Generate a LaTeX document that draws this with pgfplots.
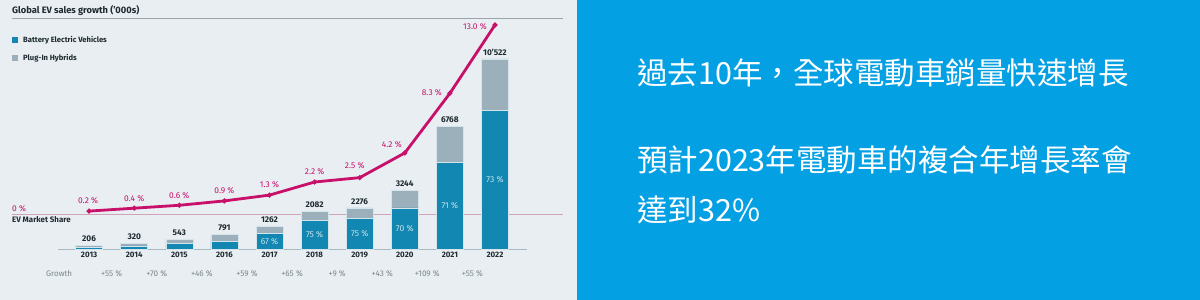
\documentclass[border=0pt]{standalone}
\usepackage{fontspec}
\setmainfont{Fira Sans}
\newfontfamily\cjk{Noto Sans CJK TC}
\usepackage{pgfplots}
\pgfplotsset{compat=1.18}
\usepackage{pgfplotstable}

\definecolor{bgc}{HTML}{E8EEF2}
\definecolor{panelc}{HTML}{04A0E4}
\definecolor{bevc}{HTML}{1287B1}
\definecolor{phevc}{HTML}{9CB0BC}
\definecolor{sharec}{HTML}{C8106A}
\definecolor{rulec}{HTML}{9AA5AB}
\definecolor{basec}{HTML}{A9B9C3}
\definecolor{zerolinec}{HTML}{CFA3B8}
\definecolor{innerc}{HTML}{C9E2EC}
\definecolor{growthc}{HTML}{7A868C}
\definecolor{inkc}{HTML}{1E2A30}
\definecolor{sepc}{HTML}{D5E3EA}

% Global EV sales ('000s): battery electric and plug-in hybrid
\pgfplotstableread{
year bev  phev total label
2013 110  96   206   206
2014 175  145  320   320
2015 290  253  543   543
2016 440  351  791   791
2017 846  416  1262  1262
2018 1562 520  2082  2082
2019 1707 569  2276  2276
2020 2271 973  3244  3244
2021 4805 1963 6768  6768
2022 7681 2841 10522 10'522
}\salestab

% BEV part of each year's sales (label sits mid-segment)
\pgfplotstableread{
year mid    pct
2017 423    67
2018 781    75
2019 853.5  75
2020 1135.5 70
2021 2402.5 71
2022 3840.5 73
}\bevtab

% year-on-year growth (%), between the years
\pgfplotstableread{
x      y     growth
2013.5 -1384 +55
2014.5 -1384 +70
2015.5 -1384 +46
2016.5 -1384 +59
2017.5 -1384 +65
2018.5 -1384 +9
2019.5 -1384 +43
2020.5 -1384 +109
2021.5 -1384 +55
}\growthtab

% EV market share (%)
\pgfplotstableread{
year share
2013 0.2
2014 0.4
2015 0.6
2016 0.9
2017 1.3
2018 2.2
2019 2.5
2020 4.2
2021 8.3
2022 13.0
}\sharetab

\pgfplotsset{
  chartframe/.style={
    at={(58pt,51pt)}, anchor=south west,
    scale only axis, width=469pt, height=240pt,
    xmin=2012.31, xmax=2022.71, ymin=0, ymax=13291, clip=false,
  },
  shareframe/.style={
    at={(58pt,86pt)}, anchor=south west,
    scale only axis, width=469pt, height=189pt,
    xmin=2012.31, xmax=2022.71, ymin=0, ymax=13,
    axis lines=none, clip=false,
  },
  sharelabel/.style={draw=none, mark=none,
    nodes near coords={\pgfmathprintnumber[fixed, precision=1, fixed zerofill]{\pgfplotspointmeta}\ \%},
    point meta=y,
    nodes near coords style={anchor=center, inner sep=0pt, text=sharec,
      font=\fontsize{8.4}{10}\selectfont, /pgf/number format/assume math mode=true}},
}

\begin{document}
\begin{tikzpicture}[x=1pt,y=1pt]
\fill[bgc] (0,0) rectangle (577,300);
\fill[panelc] (577,0) rectangle (1200,300);
\path[use as bounding box] (0,0) rectangle (1200,300);

% heading and legend
\node[anchor=west, inner sep=0pt, text=inkc, font=\bfseries\fontsize{9.3}{11}\selectfont] at (12,289.5) {Global EV sales growth ('000s)};
\draw[rulec, line width=0.8pt] (12,281.7) -- (563,281.7);
\fill[bevc] (12,257.3) rectangle (18,263.3);
\node[anchor=west, inner sep=0pt, text=inkc, font=\bfseries\fontsize{7.6}{9}\selectfont] at (23,260) {Battery Electric Vehicles};
\fill[phevc] (12,239) rectangle (18,245);
\node[anchor=west, inner sep=0pt, text=inkc, font=\bfseries\fontsize{7.6}{9}\selectfont] at (23,242) {Plug-In Hybrids};

% market share zero line
\draw[zerolinec, line width=0.7pt] (12,86) -- (563,86);
\node[anchor=west, inner sep=0pt, text=sharec, font=\fontsize{8.4}{10}\selectfont] at (12,91.7) {0 \%};
\node[anchor=west, inner sep=0pt, text=inkc, font=\bfseries\fontsize{7.9}{9}\selectfont] at (12,80) {EV Market Share};
\node[anchor=west, inner sep=0pt, text=growthc, font=\fontsize{8}{9}\selectfont] at (46,26) {Growth};

% sales bars
\begin{axis}[chartframe,
  ybar stacked, bar width=27pt,
  axis x line*=bottom, axis y line=none,
  x axis line style={-, draw=basec, line width=0.9pt},
  xtick={2013,2014,2015,2016,2017,2018,2019,2020,2021,2022},
  xticklabels={2013,2014,2015,2016,2017,2018,2019,2020,2021,2022},
  major tick length=0pt,
  xticklabel style={anchor=north, inner sep=0pt, yshift=-3pt, text=inkc, font=\bfseries\fontsize{7.9}{9}\selectfont},
]
\addplot[fill=bevc, draw=sepc, line width=0.6pt] table[x=year, y=bev] {\salestab};
\addplot[fill=phevc, draw=sepc, line width=0.6pt] table[x=year, y=phev] {\salestab};
\end{axis}

% totals, BEV shares and growth figures
\begin{axis}[chartframe, axis lines=none]
\addplot[draw=none, mark=none, nodes near coords, point meta=explicit symbolic,
  nodes near coords style={anchor=south, inner sep=0pt, yshift=3.5pt, text=inkc, font=\bfseries\fontsize{8.3}{10}\selectfont}]
  table[x=year, y=total, meta=label] {\salestab};
\addplot[draw=none, mark=none, nodes near coords={\pgfplotspointmeta\ \%}, point meta=explicit symbolic,
  nodes near coords style={anchor=center, inner sep=0pt, text=innerc, font=\fontsize{8.5}{10}\selectfont}]
  table[x=year, y=mid, meta=pct] {\bevtab};
\addplot[draw=none, mark=none, nodes near coords={\pgfplotspointmeta\ \%}, point meta=explicit symbolic,
  nodes near coords style={anchor=center, inner sep=0pt, text=growthc, font=\fontsize{8.2}{10}\selectfont}]
  table[x=x, y=y, meta=growth] {\growthtab};
\end{axis}

% market share line
\begin{axis}[shareframe]
\addplot[sharec, line width=2.8pt, mark=*, mark size=0.8pt,
  mark options={fill=white, draw=none}] table[x=year, y=share] {\sharetab};
\addplot[sharelabel, nodes near coords style={xshift=-1pt, yshift=10pt}]
  table[x=year, y=share, restrict expr to domain={\thisrow{year}}{2013:2013}] {\sharetab};
\addplot[sharelabel, nodes near coords style={yshift=10pt}]
  table[x=year, y=share, restrict expr to domain={\thisrow{year}}{2014:2018}] {\sharetab};
\addplot[sharelabel, nodes near coords style={xshift=-5pt, yshift=12pt}]
  table[x=year, y=share, restrict expr to domain={\thisrow{year}}{2019:2019}] {\sharetab};
\addplot[sharelabel, nodes near coords style={xshift=-13pt, yshift=8pt}]
  table[x=year, y=share, restrict expr to domain={\thisrow{year}}{2020:2020}] {\sharetab};
\addplot[sharelabel, nodes near coords style={xshift=-18pt, yshift=1pt}]
  table[x=year, y=share, restrict expr to domain={\thisrow{year}}{2021:2021}] {\sharetab};
\addplot[sharelabel, nodes near coords style={xshift=-20pt, yshift=-2pt}]
  table[x=year, y=share, restrict expr to domain={\thisrow{year}}{2022:2022}] {\sharetab};
\end{axis}

% headline panel
\node[anchor=west, inner sep=0pt, text=white, font=\cjk\fontsize{30.5}{36}\selectfont] at (637,227) {過去10年，全球電動車銷量快速增長};
\node[anchor=west, inner sep=0pt, text=white, font=\cjk\fontsize{30.5}{36}\selectfont] at (637,140) {預計2023年電動車的複合年增長率會};
\node[anchor=west, inner sep=0pt, text=white, font=\cjk\fontsize{30.5}{36}\selectfont] at (637,90) {達到32\%};
\end{tikzpicture}
\end{document}
